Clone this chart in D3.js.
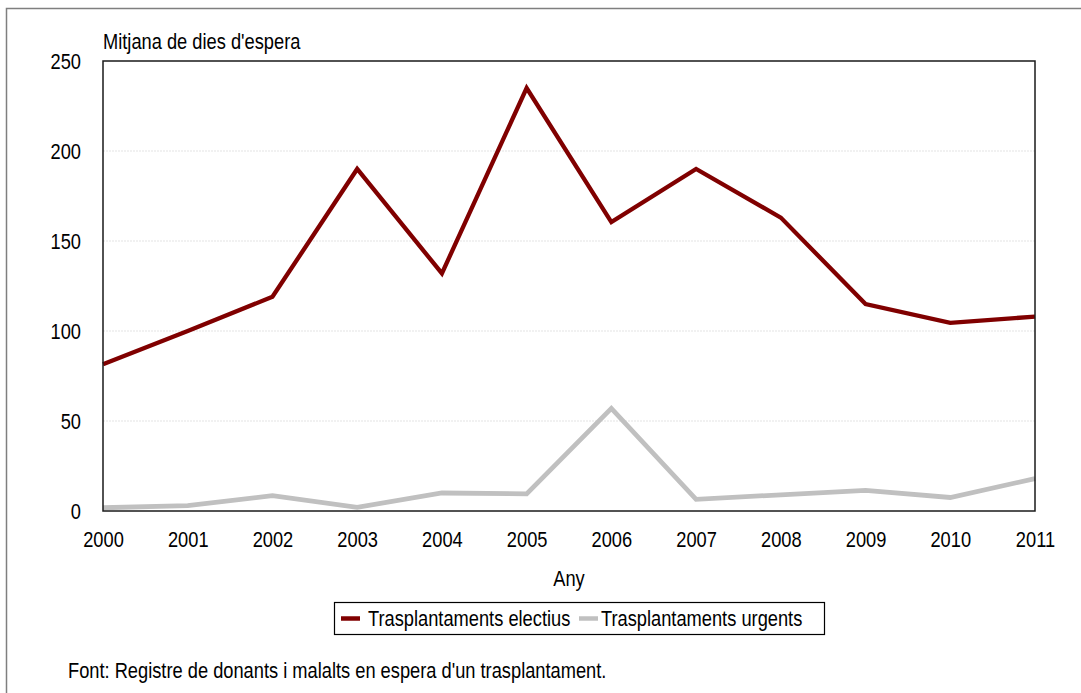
<!DOCTYPE html>
<html>
<head>
<meta charset="utf-8">
<script src="https://cdn.jsdelivr.net/npm/d3@7"></script>
<style>
  html, body { margin: 0; padding: 0; background: #fff; }
  svg { display: block; }
  text { font-family: 'Liberation Sans', Arial, sans-serif; fill: #000; }
</style>
</head>
<body>
<svg id="chart" width="1081" height="693"></svg>
<script>
const years = [2000, 2001, 2002, 2003, 2004, 2005, 2006, 2007, 2008, 2009, 2010, 2011];
const electius = [81.5, 100, 119, 190, 132, 235, 160.5, 190, 163, 115, 104.5, 108];
const urgents = [1.8, 3, 8.5, 2, 10, 9.5, 57, 6.5, 9, 11.5, 7.5, 18];
const yTicks = [0, 50, 100, 150, 200, 250];
const seriesNames = ["Trasplantaments electius", "Trasplantaments urgents"];
const seriesColors = ["#800000", "#c0c0c0"];
const yTitle = "Mitjana de dies d'espera";
const xTitle = "Any";
const sourceNote = "Font: Registre de donants i malalts en espera d'un trasplantament.";

const svg = d3.select("#chart");
const plot = { left: 103, right: 1035, top: 61, bottom: 511 };
const NARROW = 0.83; // emulate a narrow sans face

const x = d3.scaleLinear().domain([2000, 2011]).range([plot.left, plot.right]);
const y = d3.scaleLinear().domain([0, 250]).range([plot.bottom, plot.top]);

// outer frame
svg.append("rect")
  .attr("x", 6.5).attr("y", 8.5).attr("width", 1090).attr("height", 700)
  .attr("fill", "none").attr("stroke", "#7f7f7f").attr("stroke-width", 1.5);

// gridlines
svg.append("g").selectAll("line").data(yTicks.filter(d => d > 0 && d < 250)).join("line")
  .attr("x1", plot.left).attr("x2", plot.right)
  .attr("y1", d => y(d)).attr("y2", d => y(d))
  .attr("stroke", "#e3e3e3").attr("stroke-width", 1).attr("stroke-dasharray", "2,1");

// y axis labels
const yAxis = d3.axisLeft(y).tickValues(yTicks).tickSize(0).tickPadding(22).tickFormat(d3.format("d"));
const gy = svg.append("g").attr("transform", `translate(${plot.left},0)`).call(yAxis);
gy.select(".domain").remove();
gy.selectAll("text").attr("font-size", 22).attr("font-family", null).attr("dy", "0.35em");

// x axis labels
const xAxis = d3.axisBottom(x).tickValues(years).tickSize(0).tickPadding(0).tickFormat(d3.format("d"));
const gx = svg.append("g").attr("transform", `translate(0,${plot.bottom})`).call(xAxis);
gx.select(".domain").remove();
gx.selectAll("text").attr("font-size", 22).attr("font-family", null).attr("dy", null).attr("y", 36);

// lines
const line = d3.line().x((d, i) => x(years[i])).y(d => y(d));
[electius, urgents].forEach((s, k) => {
  svg.append("path").datum(s)
    .attr("d", line)
    .attr("fill", "none")
    .attr("stroke", seriesColors[k])
    .attr("stroke-width", k === 0 ? 4.3 : 4.8)
    .attr("stroke-linejoin", "miter");
});

// plot border
svg.append("rect")
  .attr("x", plot.left).attr("y", plot.top)
  .attr("width", plot.right - plot.left).attr("height", plot.bottom - plot.top)
  .attr("fill", "none").attr("stroke", "#1a1a1a").attr("stroke-width", 1.5);

// titles
svg.append("text").attr("x", 103).attr("y", 49).attr("font-size", 22).text(yTitle);
svg.append("text").attr("x", (plot.left + plot.right) / 2).attr("y", 586)
  .attr("text-anchor", "middle").attr("font-size", 22).text(xTitle);

// legend
const lg = svg.append("g");
lg.append("rect").attr("x", 334.5).attr("y", 602.5).attr("width", 490).attr("height", 32)
  .attr("fill", "#fff").attr("stroke", "#000").attr("stroke-width", 1.2);
const legSwatchX = [341, 579];
const legTextX = [368, 601];
seriesNames.forEach((n, k) => {
  lg.append("line").attr("x1", legSwatchX[k]).attr("x2", legSwatchX[k] + 19)
    .attr("y1", 618.5).attr("y2", 618.5)
    .attr("stroke", seriesColors[k]).attr("stroke-width", 4.5);
  lg.append("text").attr("x", legTextX[k]).attr("y", 626).attr("font-size", 22).text(n);
});

// source
svg.append("text").attr("x", 68).attr("y", 678).attr("font-size", 22).text(sourceNote);

// compress glyphs horizontally to emulate a narrow typeface
svg.selectAll("text").each(function () {
  const w = this.getComputedTextLength();
  d3.select(this).attr("textLength", w * NARROW).attr("lengthAdjust", "spacingAndGlyphs");
});
</script>
</body>
</html>
